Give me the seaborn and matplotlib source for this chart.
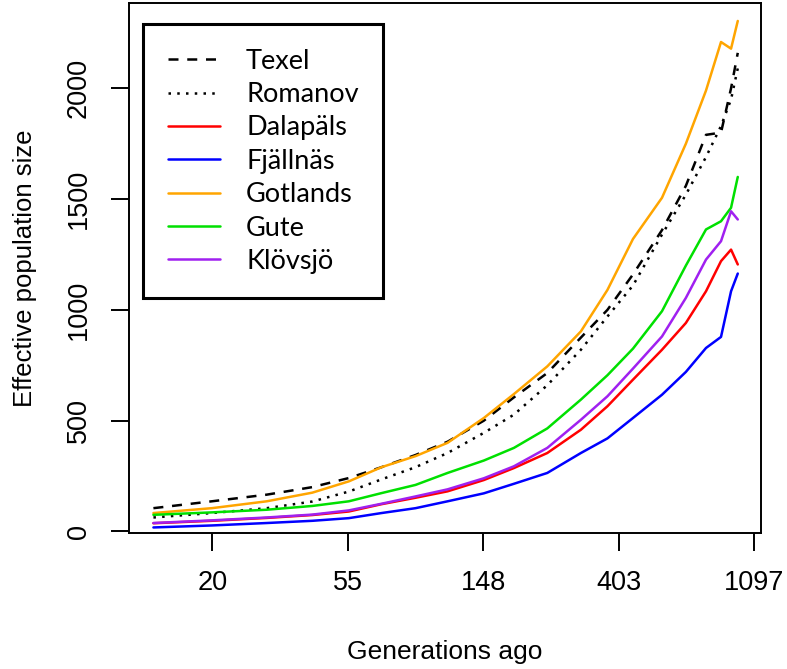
"""
Ne over time for seven sheep breeds (log x axis)
"""
import numpy as np
import pandas as pd
import matplotlib
matplotlib.use("Agg")
import matplotlib.pyplot as plt
import seaborn as sns

# Generations ago (x) and effective population size per breed
generations = [13, 20, 30, 42, 55, 70, 90, 114, 149, 186, 238, 305, 371, 448,
               555, 662, 768, 858, 924, 971]
texel = [105, 136, 166, 200, 241, 290, 345, 405, 500, 605, 715, 875, 1000, 1160,
         1360, 1560, 1790, 1800, 2000, 2160]
romanov = [63, 83, 105, 135, 180, 235, 290, 354, 445, 527, 660, 820, 970, 1110,
           1340, 1520, 1690, 1830, 1950, 2090]
dalapals = [37, 48, 61, 74, 90, 123, 152, 181, 232, 286, 354, 459, 565, 685,
            820, 941, 1084, 1220, 1272, 1205]
fjallnas = [18, 27, 38, 48, 60, 83, 105, 136, 172, 215, 264, 354, 420, 512,
            617, 720, 828, 878, 1084, 1164]
gotlands = [83, 105, 136, 175, 226, 290, 340, 400, 512, 620, 745, 903, 1090, 1320,
            1506, 1750, 1990, 2209, 2179, 2304]
gute = [75, 86, 98, 115, 136, 173, 210, 264, 320, 377, 465, 595, 705, 825,
        994, 1200, 1363, 1400, 1461, 1600]
klovsjo = [38, 50, 63, 76, 95, 125, 158, 190, 240, 294, 377, 504, 610, 735,
           880, 1054, 1227, 1310, 1445, 1408]

races = ["Texel", "Romanov", "Dalapäls", "Fjällnäs", "Gotlands", "Gute", "Klövsjö"]
valeurs = [texel, romanov, dalapals, fjallnas, gotlands, gute, klovsjo]
couleurs = ["black", "black", "#FF0000", "#0000FF", "#FFA500", "#00E000", "#A020F0"]
styles = [(0, (4, 3.5)), (0, (1, 2.5)), "-", "-", "-", "-", "-"]

sns.set_style("white")
plt.rcParams["font.family"] = ["Liberation Sans", "DejaVu Sans"]
for cle in ["text.color", "axes.labelcolor", "xtick.color", "ytick.color"]:
    plt.rcParams[cle] = "black"

fig = plt.figure(figsize=(7.87, 6.69), dpi=100)
ax = fig.add_axes([0.1643, 0.2033, 0.8027, 0.7922])

for nom, vals, coul, st in zip(races, valeurs, couleurs, styles):
    df = pd.DataFrame({"gen": generations, "ne": vals})
    sns.lineplot(data=df, x="gen", y="ne", ax=ax, color=coul, linewidth=1.8,
                 label=nom, sort=False)
    ax.lines[-1].set_linestyle(st)

ax.set_xscale("log")
ax.set_xlim(np.exp(2.387), np.exp(7.05))
ax.set_ylim(-7, 2385)

ticks_x = [20, 55, 148, 403, 1097]
ax.set_xticks(np.exp([3, 4, 5, 6, 7]))
ax.set_xticklabels([str(t) for t in ticks_x])
ax.minorticks_off()
ax.set_yticks([0, 500, 1000, 1500, 2000])
ax.set_yticklabels(["0", "500", "1000", "1500", "2000"], rotation=90, va="center")

ax.tick_params(axis="both", direction="out", length=13, width=1.4, color="black",
               labelsize=19.5, bottom=True, left=True)
ax.tick_params(axis="x", pad=14)
ax.tick_params(axis="y", pad=14)
for sp in ax.spines.values():
    sp.set_color("black")
    sp.set_linewidth(1.4)

ax.set_xlabel("Generations ago", fontsize=19, labelpad=31)
ax.set_ylabel("Effective population size", fontsize=18.5, labelpad=21)

leg = ax.legend(loc="upper left", bbox_to_anchor=(0.022, 0.96), fancybox=False,
                edgecolor="black", framealpha=1, prop={"family": "Lato", "size": 19.5},
                handlelength=1.95, handletextpad=0.95, borderpad=0.9, labelspacing=0.31,
                borderaxespad=0)
leg.get_frame().set_linewidth(2.2)

fig.savefig("out.png", dpi=100)
